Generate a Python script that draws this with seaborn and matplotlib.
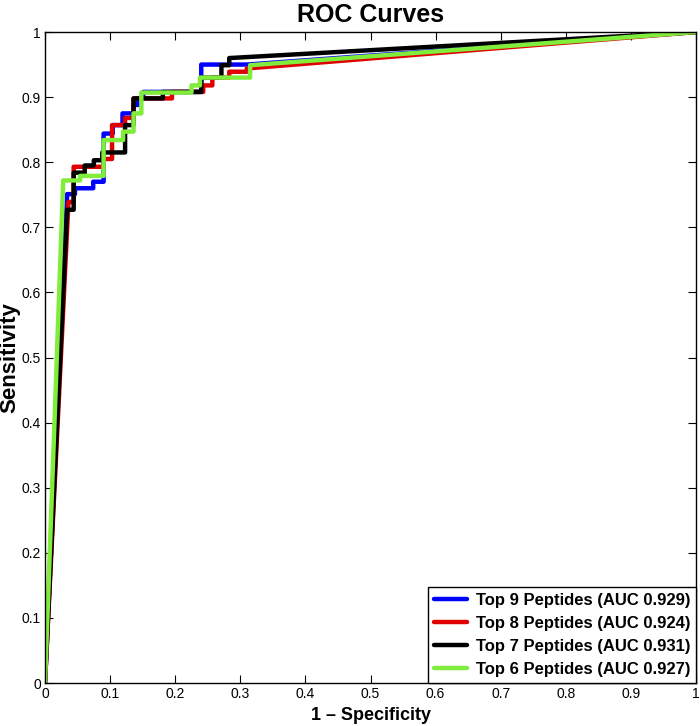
import numpy as np
import pandas as pd
import matplotlib
matplotlib.use("Agg")
import matplotlib.pyplot as plt
import seaborn as sns

# ---- data ----
labels = ["Top 9 Peptides (AUC 0.929)", "Top 8 Peptides (AUC 0.924)",
          "Top 7 Peptides (AUC 0.931)", "Top 6 Peptides (AUC 0.927)"]
colors = ["#0000ff", "#e00000", "#000000", "#80ec3c"]

fpr_top9 = [0, 0.034, 0.046, 0.046, 0.074, 0.074, 0.090, 0.090, 0.104, 0.104, 0.119, 0.119,
            0.136, 0.136, 0.143, 0.143, 0.151, 0.151, 0.240, 0.240, 0.310, 1]
tpr_top9 = [0, 0.751, 0.751, 0.760, 0.760, 0.770, 0.770, 0.844, 0.844, 0.857, 0.857, 0.875,
            0.875, 0.888, 0.888, 0.898, 0.898, 0.908, 0.908, 0.950, 0.950, 1]

fpr_top8 = [0, 0.036, 0.044, 0.044, 0.090, 0.090, 0.103, 0.103, 0.123, 0.123, 0.136, 0.136,
            0.195, 0.195, 0.243, 0.243, 0.257, 0.257, 0.283, 0.283, 0.310, 0.310, 1]
tpr_top8 = [0, 0.739, 0.739, 0.793, 0.793, 0.805, 0.805, 0.857, 0.857, 0.868, 0.868, 0.898,
            0.898, 0.908, 0.908, 0.918, 0.918, 0.930, 0.930, 0.939, 0.939, 0.944, 1]

fpr_top7 = [0, 0.034, 0.044, 0.044, 0.061, 0.061, 0.075, 0.075, 0.088, 0.088, 0.123, 0.123,
            0.136, 0.136, 0.181, 0.181, 0.240, 0.240, 0.271, 0.271, 0.283, 0.283, 1]
tpr_top7 = [0, 0.727, 0.727, 0.784, 0.784, 0.795, 0.795, 0.803, 0.803, 0.815, 0.815, 0.857,
            0.857, 0.898, 0.898, 0.908, 0.908, 0.930, 0.930, 0.949, 0.949, 0.960, 1]

fpr_top6 = [0, 0.028, 0.054, 0.054, 0.090, 0.090, 0.120, 0.120, 0.136, 0.136, 0.148, 0.148,
            0.225, 0.225, 0.238, 0.238, 0.315, 0.315, 1]
tpr_top6 = [0, 0.772, 0.772, 0.779, 0.779, 0.834, 0.834, 0.847, 0.847, 0.875, 0.875, 0.907,
            0.907, 0.918, 0.918, 0.930, 0.930, 0.949, 1]

x_ticks = [0, 0.1, 0.2, 0.3, 0.4, 0.5, 0.6, 0.7, 0.8, 0.9, 1]
y_ticks = [0, 0.1, 0.2, 0.3, 0.4, 0.5, 0.6, 0.7, 0.8, 0.9, 1]
tick_labels = ["0", "0.1", "0.2", "0.3", "0.4", "0.5", "0.6", "0.7", "0.8", "0.9", "1"]

frames = []
for lab, fx, ty in zip(labels,
                       [fpr_top9, fpr_top8, fpr_top7, fpr_top6],
                       [tpr_top9, tpr_top8, tpr_top7, tpr_top6]):
    frames.append(pd.DataFrame({"fpr": fx, "tpr": ty, "model": lab,
                                "order": np.arange(len(fx))}))
df = pd.concat(frames, ignore_index=True)

# ---- style ----
sns.set_style("ticks", {"xtick.direction": "in", "ytick.direction": "in"})
plt.rcParams["font.family"] = ["Liberation Sans", "DejaVu Sans"]
plt.rcParams["text.color"] = "black"
plt.rcParams["axes.labelcolor"] = "black"
plt.rcParams["xtick.color"] = "black"
plt.rcParams["ytick.color"] = "black"

fig = plt.figure(figsize=(7.0, 7.26), dpi=100)
ax = fig.add_axes([0.0643, 0.0592, 0.9300, 0.8967])

sns.lineplot(data=df, x="fpr", y="tpr", hue="model", hue_order=labels,
             palette=colors, sort=False, estimator=None, units="model",
             linewidth=3.2, ax=ax, legend=True)

ax.set_xlim(0, 1)
ax.set_ylim(0, 1)
ax.set_xticks(x_ticks)
ax.set_xticklabels(tick_labels, fontsize=10)
ax.set_yticks(y_ticks)
ax.set_yticklabels(tick_labels, fontsize=10)
ax.tick_params(axis="both", which="both", direction="in", length=6, width=0.8,
               top=True, right=True, pad=3, colors="black")
for s in ax.spines.values():
    s.set_visible(True)
    s.set_linewidth(1.0)
    s.set_color("black")

ax.set_title("ROC Curves", fontsize=18, fontweight="bold", pad=7, color="black")
ax.set_xlabel("1 \u2013 Specificity", fontsize=13, fontweight="bold", labelpad=4)
ax.set_ylabel("Sensitivity", fontsize=16, fontweight="bold", labelpad=1)

leg = ax.legend(loc="lower right", frameon=True, fancybox=False,
                edgecolor="black", framealpha=1, borderaxespad=0.0,
                handlelength=2.0, handletextpad=0.5, borderpad=0.35,
                labelspacing=0.48, prop={"weight": "bold", "size": 12})
for h in leg.get_lines():
    h.set_linewidth(3.2)
leg.get_frame().set_linewidth(1.0)

fig.savefig("out.png", dpi=100)
